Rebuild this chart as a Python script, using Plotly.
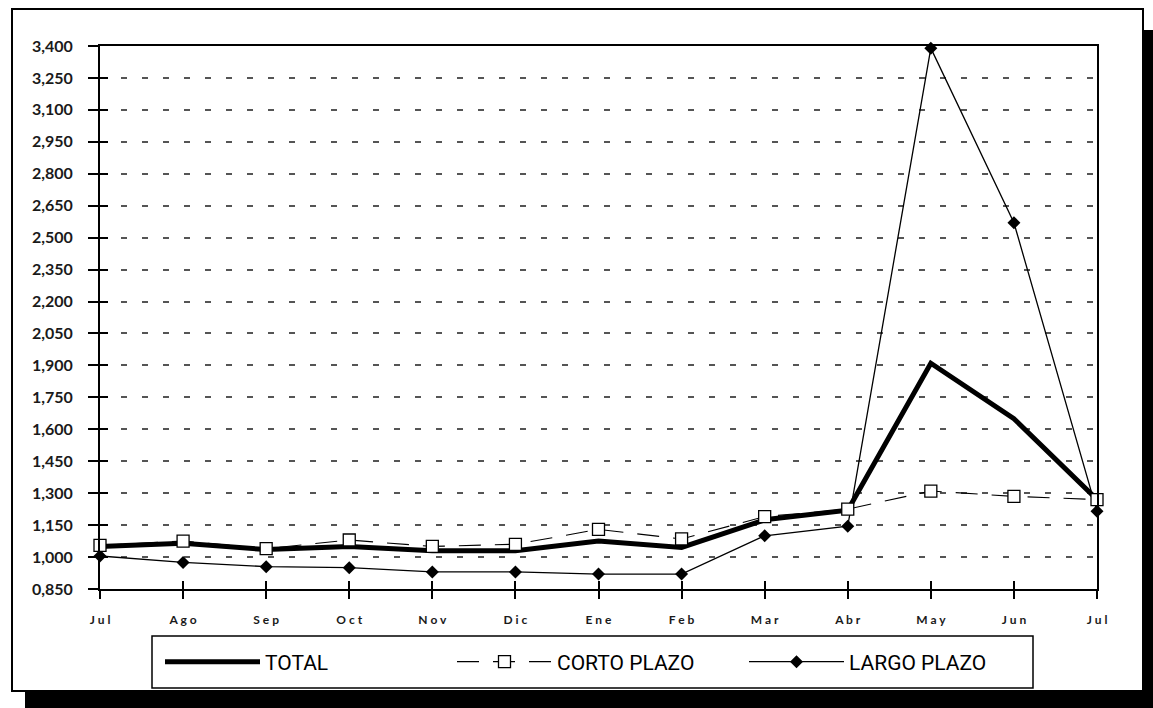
import plotly.graph_objects as go

# Monthly series (Jul to Jul)
months = ["Jul", "Ago", "Sep", "Oct", "Nov", "Dic", "Ene", "Feb", "Mar", "Abr", "May", "Jun", "Jul"]
total = [1.050, 1.065, 1.035, 1.050, 1.030, 1.030, 1.075, 1.045, 1.175, 1.220, 1.910, 1.650, 1.270]
corto_plazo = [1.055, 1.075, 1.040, 1.080, 1.050, 1.060, 1.130, 1.085, 1.190, 1.225, 1.310, 1.285, 1.270]
largo_plazo = [1.005, 0.975, 0.955, 0.950, 0.930, 0.930, 0.920, 0.920, 1.100, 1.145, 3.390, 2.570, 1.215]

y_min, y_max, y_step = 0.85, 3.40, 0.15
x_pos = list(range(len(months)))
tick_text = [" ".join(m) for m in months]

W, H = 1153, 708
L, R, T, B = 100, 56, 46, 119
PW, PH = W - L - R, H - T - B


def px(x):
    return (x - L) / PW


def py(y):
    return (H - B - y) / PH


fig = go.Figure()

fig.add_trace(go.Scatter(
    x=x_pos, y=total, name="TOTAL", mode="lines",
    line=dict(color="black", width=5), legendrank=1, cliponaxis=False))
fig.add_trace(go.Scatter(
    x=x_pos, y=largo_plazo, name="LARGO PLAZO", mode="lines+markers",
    line=dict(color="black", width=1.3),
    marker=dict(symbol="diamond", size=10, color="black"),
    legendrank=3, cliponaxis=False))
fig.add_trace(go.Scatter(
    x=x_pos, y=corto_plazo, name="CORTO PLAZO", mode="lines+markers",
    line=dict(color="black", width=1.1, dash="22px,14px"),
    marker=dict(symbol="square", size=12, color="white",
                line=dict(color="black", width=1.3)),
    legendrank=2, cliponaxis=False))
# companion axes carry the inner halves of the tick marks
fig.add_trace(go.Scatter(x=[], y=[], xaxis="x2", yaxis="y2",
                         showlegend=False, hoverinfo="skip"))

axis_font = dict(family="Lato, DejaVu Sans, sans-serif", size=16, color="#1a1a1a", weight="bold")

fig.update_layout(
    width=W, height=H,
    margin=dict(l=L, r=R, t=T, b=B),
    paper_bgcolor="white", plot_bgcolor="white",
    separators=",.",
    showlegend=True,
    legend=dict(
        orientation="h", x=px(160), y=py(662), xanchor="left", yanchor="middle",
        bgcolor="rgba(0,0,0,0)", borderwidth=0, itemwidth=95,
        entrywidth=182, entrywidthmode="pixels",
        font=dict(family="Roboto, sans-serif", size=21, color="black"),
    ),
    xaxis=dict(
        range=[0, len(months) - 1], tickvals=x_pos, ticktext=tick_text,
        showline=True, linecolor="black", linewidth=2, mirror=True,
        ticks="outside", ticklen=8, tickwidth=1.5, tickcolor="black",
        showgrid=False, zeroline=False,
        tickfont=dict(family="Lato, DejaVu Sans, sans-serif", size=12, color="#1a1a1a", weight="bold"),
        ticklabelstandoff=11,
    ),
    yaxis=dict(
        range=[y_min, y_max], tick0=y_min, dtick=y_step, tickformat=".3f",
        showline=True, linecolor="black", linewidth=2, mirror=True,
        ticks="outside", ticklen=10, tickwidth=1.5, tickcolor="black",
        showgrid=True, gridcolor="#555555", gridwidth=2, griddash="6px,15px",
        zeroline=False, tickfont=axis_font, ticklabelstandoff=12,
    ),
    xaxis2=dict(
        overlaying="x", anchor="y2", range=[0, len(months) - 1], tickvals=x_pos,
        showticklabels=False, ticks="inside", ticklen=8, tickwidth=1.5,
        tickcolor="black", showgrid=False, zeroline=False, showline=False,
    ),
    yaxis2=dict(
        overlaying="y", anchor="x2", range=[y_min, y_max], tick0=y_min, dtick=y_step,
        showticklabels=False, ticks="inside", ticklen=8, tickwidth=1.5,
        tickcolor="black", showgrid=False, zeroline=False, showline=False,
    ),
    shapes=[
        # drop shadow behind the frame
        dict(type="rect", xref="paper", yref="paper",
             x0=px(25), x1=px(W + 2), y0=py(H + 2), y1=py(691),
             fillcolor="black", line=dict(width=0), layer="below"),
        dict(type="rect", xref="paper", yref="paper",
             x0=px(1143), x1=px(W + 2), y0=py(H + 2), y1=py(30),
             fillcolor="black", line=dict(width=0), layer="below"),
        # outer frame
        dict(type="rect", xref="paper", yref="paper",
             x0=px(12), x1=px(1143), y0=py(691), y1=py(9),
             line=dict(color="black", width=2), layer="below"),
        # legend box
        dict(type="rect", xref="paper", yref="paper",
             x0=px(152), x1=px(1033), y0=py(688), y1=py(636),
             line=dict(color="black", width=1.5), fillcolor="white", layer="below"),
    ],
)

fig.write_html("out.html")
